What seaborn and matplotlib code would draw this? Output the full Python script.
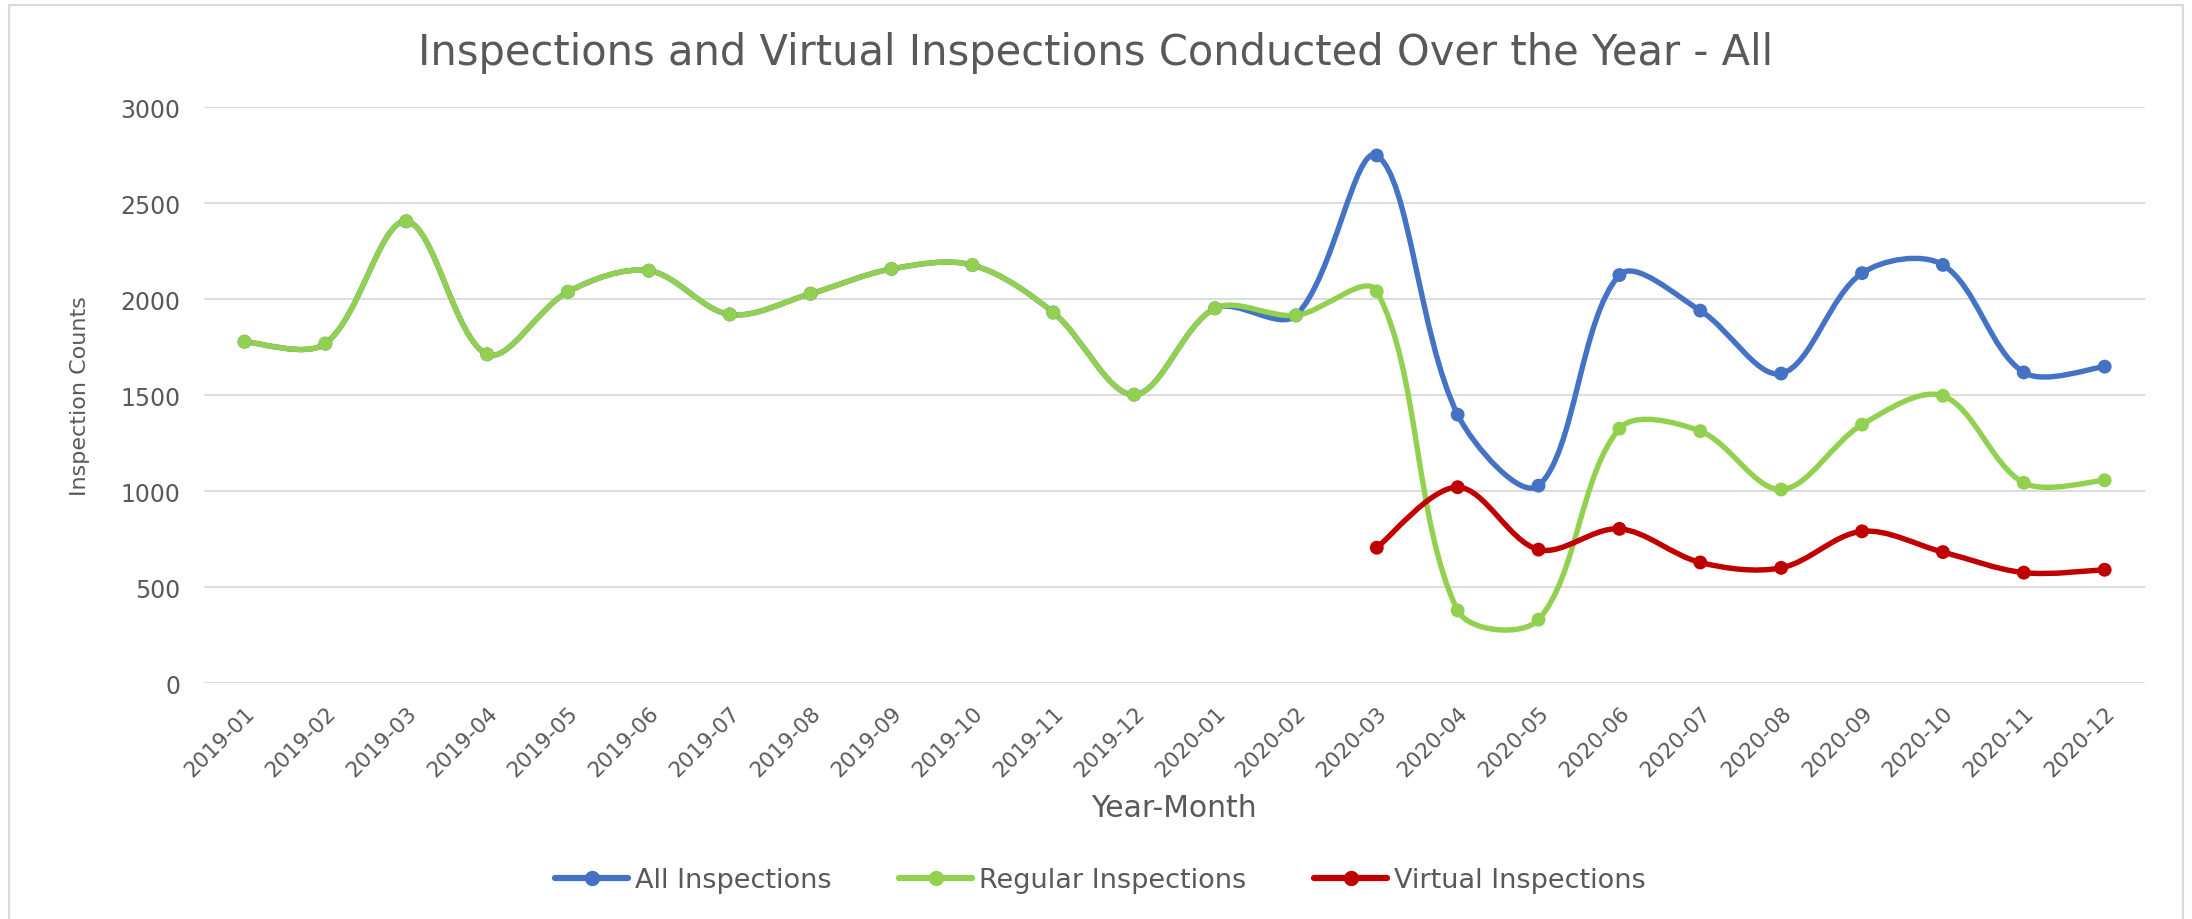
import numpy as np
import pandas as pd
import matplotlib.pyplot as plt
import matplotlib.path as mpath
import matplotlib.patches as mpatches
from matplotlib.lines import Line2D
import seaborn as sns

months = ['2019-01', '2019-02', '2019-03', '2019-04', '2019-05', '2019-06',
          '2019-07', '2019-08', '2019-09', '2019-10', '2019-11', '2019-12',
          '2020-01', '2020-02', '2020-03', '2020-04', '2020-05', '2020-06',
          '2020-07', '2020-08', '2020-09', '2020-10', '2020-11', '2020-12']

all_inspections = [1778, 1768, 2405, 1712, 2038, 2148, 1920, 2028, 2157, 2177, 1930, 1502,
                   1952, 1915, 2748, 1398, 1028, 2125, 1940, 1612, 2135, 2178, 1618, 1648]
regular_inspections = [1778, 1768, 2405, 1712, 2038, 2148, 1920, 2028, 2157, 2177, 1930, 1502,
                       1952, 1915, 2040, 378, 330, 1325, 1312, 1008, 1346, 1496, 1043, 1056]
virtual_inspections = [np.nan] * 14 + [705, 1020, 695, 803, 628, 600, 790, 682, 575, 590]

series_names = ['All Inspections', 'Regular Inspections', 'Virtual Inspections']
series_colors = ['#4472C4', '#92D050', '#C00000']

# long-form table for seaborn
df = pd.DataFrame({
    'pos': list(range(len(months))) * 3,
    'count': all_inspections + regular_inspections + virtual_inspections,
    'series': np.repeat(series_names, len(months)),
})

sns.set_theme(style='whitegrid')
plt.rcParams['font.family'] = ['DejaVu Sans']
text_color = '#595959'

fig = plt.figure(figsize=(21.92, 9.2), dpi=100)
ax = fig.add_axes([0.0931, 0.2565, 0.8855, 0.626])
ax.set_xlim(-0.5, len(months) - 0.5)
ax.set_ylim(0, 3000)


def smooth_path(x, y):
    # Excel-like smoothed line: cubic Bezier, tangents weighted by on-screen segment lengths
    data = np.column_stack([x, y])
    scr = ax.transData.transform(data)
    n = len(data)

    def dist(i, j):
        return np.hypot(*(scr[j] - scr[i]))

    verts = [data[0]]
    codes = [mpath.Path.MOVETO]
    for i in range(n - 1):
        i0, i3 = max(i - 1, 0), min(i + 2, n - 1)
        d01, d12, d23 = dist(i0, i), dist(i, i + 1), dist(i + 1, i3)
        w1 = d12 / (d01 + d12) if d01 > 0 else 0.5
        w2 = d12 / (d12 + d23) if d23 > 0 else 0.5
        c1 = data[i] + (data[i + 1] - data[i0]) * w1 / 3
        c2 = data[i + 1] - (data[i3] - data[i]) * w2 / 3
        verts += [c1, c2, data[i + 1]]
        codes += [mpath.Path.CURVE4] * 3
    return mpath.Path(verts, codes)


for name, color in zip(series_names, series_colors):
    sub = df[df['series'] == name].dropna()
    path = smooth_path(sub['pos'].to_numpy(float), sub['count'].to_numpy(float))
    ax.add_patch(mpatches.PathPatch(path, fill=False, edgecolor=color, lw=3.9,
                                    capstyle='round', joinstyle='round', zorder=3))

sns.scatterplot(data=df.dropna(), x='pos', y='count', hue='series',
                palette=dict(zip(series_names, series_colors)), s=100,
                edgecolor=None, linewidth=0, legend=False, zorder=4, ax=ax)

ax.set_xlim(-0.5, len(months) - 0.5)
ax.set_ylim(0, 3000)
ax.set_yticks(range(0, 3001, 500))
ax.set_xticks(range(len(months)))
ax.set_xticklabels(months, rotation=45, ha='right', rotation_mode='anchor')
ax.tick_params(axis='both', length=0, labelcolor=text_color)
ax.tick_params(axis='x', pad=14, labelsize=15.5)
ax.tick_params(axis='y', pad=17, labelsize=17)
ax.grid(axis='y', color='#D9D9D9', lw=1.3)
ax.grid(axis='x', visible=False)
for s in ax.spines.values():
    s.set_visible(False)
ax.set_xlabel('')
ax.set_ylabel('')

fig.text(0.5, 0.942, 'Inspections and Virtual Inspections Conducted Over the Year - All',
         ha='center', va='center', fontsize=30, color=text_color)
fig.text(0.0365, 0.5696, 'Inspection Counts', rotation=90, ha='center', va='center',
         fontsize=16, color=text_color)
fig.text(0.5357, 0.1217, 'Year-Month', ha='center', va='center', fontsize=21.5, color=text_color)

handles = [Line2D([0], [0], color=c, lw=4.5, marker='o', markersize=10) for c in series_colors]
fig.legend(handles, series_names, loc='center', bbox_to_anchor=(0.502, 0.0424), ncol=3,
           frameon=False, fontsize=19.5, handlelength=2.7, columnspacing=2.5,
           handletextpad=0.25, labelcolor=text_color)

fig.patches.append(mpatches.Rectangle((0.004, -0.01), 0.992, 1.0035, transform=fig.transFigure,
                                      fill=False, edgecolor='#D9D9D9', lw=1.5))

fig.savefig('out.png', dpi=100, facecolor='white')
